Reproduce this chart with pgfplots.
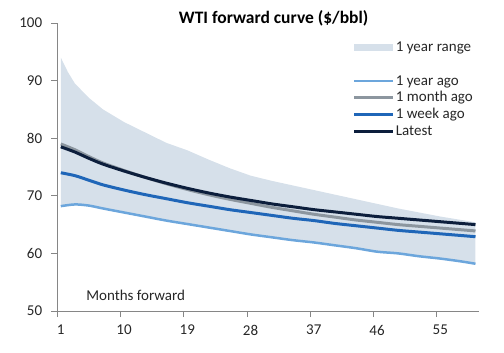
\documentclass[border=0pt]{standalone}
\usepackage{fontspec}
\setmainfont{Carlito}
\usepackage{pgfplots}
\usepackage{pgfplotstable}
\pgfplotsset{compat=1.18}
\usepgfplotslibrary{fillbetween}
\definecolor{rangefill}{HTML}{D6E0EA}
\definecolor{yearago}{HTML}{6CA6DC}
\definecolor{monthago}{HTML}{8C969F}
\definecolor{weekago}{HTML}{1F66B8}
\definecolor{latest}{HTML}{0C1E3C}
\definecolor{axisgray}{HTML}{868686}
\definecolor{textcol}{HTML}{262626}

\pgfplotstableread{
m up
1 94.0
2 91.5
3 89.5
5 87.0
7 85.0
10 82.8
13 81.0
16 79.2
19 77.9
22 76.3
25 74.8
28 73.5
31 72.6
34 71.8
37 71.0
40 70.2
43 69.4
46 68.6
49 67.8
52 67.1
55 66.4
58 65.8
60 65.4
}\upper

\pgfplotstableread{
m yago mago wago latest
1 68.2 79.0 74.0 78.5
3 68.5 78.0 73.5 77.6
5 68.3 76.8 72.7 76.5
7 67.8 75.7 71.9 75.5
10 67.1 74.4 71.0 74.3
13 66.4 73.2 70.2 73.2
16 65.7 72.1 69.5 72.2
19 65.1 71.1 68.8 71.3
22 64.5 70.2 68.2 70.5
25 63.9 69.4 67.6 69.8
28 63.3 68.7 67.1 69.2
31 62.8 68.0 66.6 68.6
34 62.3 67.4 66.1 68.1
37 61.9 66.8 65.7 67.6
40 61.4 66.3 65.2 67.2
43 60.9 65.8 64.8 66.8
46 60.3 65.4 64.4 66.4
49 60.0 65.0 64.0 66.1
52 59.5 64.7 63.7 65.8
55 59.1 64.4 63.4 65.5
58 58.6 64.1 63.1 65.2
60 58.2 63.9 62.9 65.0
}\curves

\begin{document}
\fontsize{15bp}{18bp}\selectfont
\begin{tikzpicture}
\begin{axis}[
  at={(0,0)}, anchor=south west,
  scale only axis, width=421.7bp, height=288bp,
  xmin=0.5, xmax=60.5, ymin=50, ymax=100,
  axis x line*=bottom, axis y line*=left,
  axis line style={draw=axisgray, line width=0.8bp, -},
  xtick={0.5,9.5,18.5,27.5,36.5,45.5,54.5},
  xticklabels={1,10,19,28,37,46,55},
  ytick={50,60,70,80,90,100},
  tick align=outside, major tick length=6bp,
  tick style={draw=axisgray, line width=0.8bp},
  x tick label style={xshift=3.5bp, yshift=-3bp},
  y tick label style={xshift=-4bp},
  /pgf/number format/assume math mode=true,
  tick label style={font=\fontsize{15bp}{18bp}\selectfont, text=textcol},
  title={WTI forward curve (\$/bbl)},
  title style={font=\bfseries\fontsize{17.5bp}{20bp}\selectfont, text=black, at={(0.513,1)}, anchor=base, yshift=-6bp},
  legend image code/.code={\draw[#1] (0bp,0bp) -- (39bp,0bp);},
  legend style={at={(0.70,0.94)}, anchor=north west, draw=none, fill=none,
    inner sep=0pt, row sep=2.8bp, column sep=0pt,
    nodes={inner xsep=1.2bp, inner ysep=0pt, text height=11bp, text depth=3bp, font=\fontsize{15bp}{18bp}\selectfont, text=textcol}},
  legend cell align=left,
]
\addplot[draw=none, name path=up, forget plot] table[x=m, y=up] {\upper};
\addplot[draw=none, name path=lo, forget plot] table[x=m, y=yago] {\curves};
\addplot[fill=rangefill, draw=none,
  legend image code/.code={\fill[rangefill] (0bp,-3.5bp) rectangle (39bp,3.5bp);}]
  fill between[of=up and lo];
\addlegendentry{1 year range}
\addlegendimage{empty legend}
\addlegendentry{}
\addplot[yearago, line width=2.5bp, smooth] table[x=m, y=yago] {\curves};
\addlegendentry{1 year ago}
\addplot[monthago, line width=3bp, smooth] table[x=m, y=mago] {\curves};
\addlegendentry{1 month ago}
\addplot[weekago, line width=3bp, smooth] table[x=m, y=wago] {\curves};
\addlegendentry{1 week ago}
\addplot[latest, line width=3bp, smooth] table[x=m, y=latest] {\curves};
\addlegendentry{Latest}
\node[anchor=west, inner sep=0pt, text=textcol] at (axis cs:4.6,52.8) {Months forward};
\end{axis}
\pgfresetboundingbox
\useasboundingbox (-57.3bp,-42bp) rectangle (446.7bp,311bp);
\end{tikzpicture}
\end{document}
